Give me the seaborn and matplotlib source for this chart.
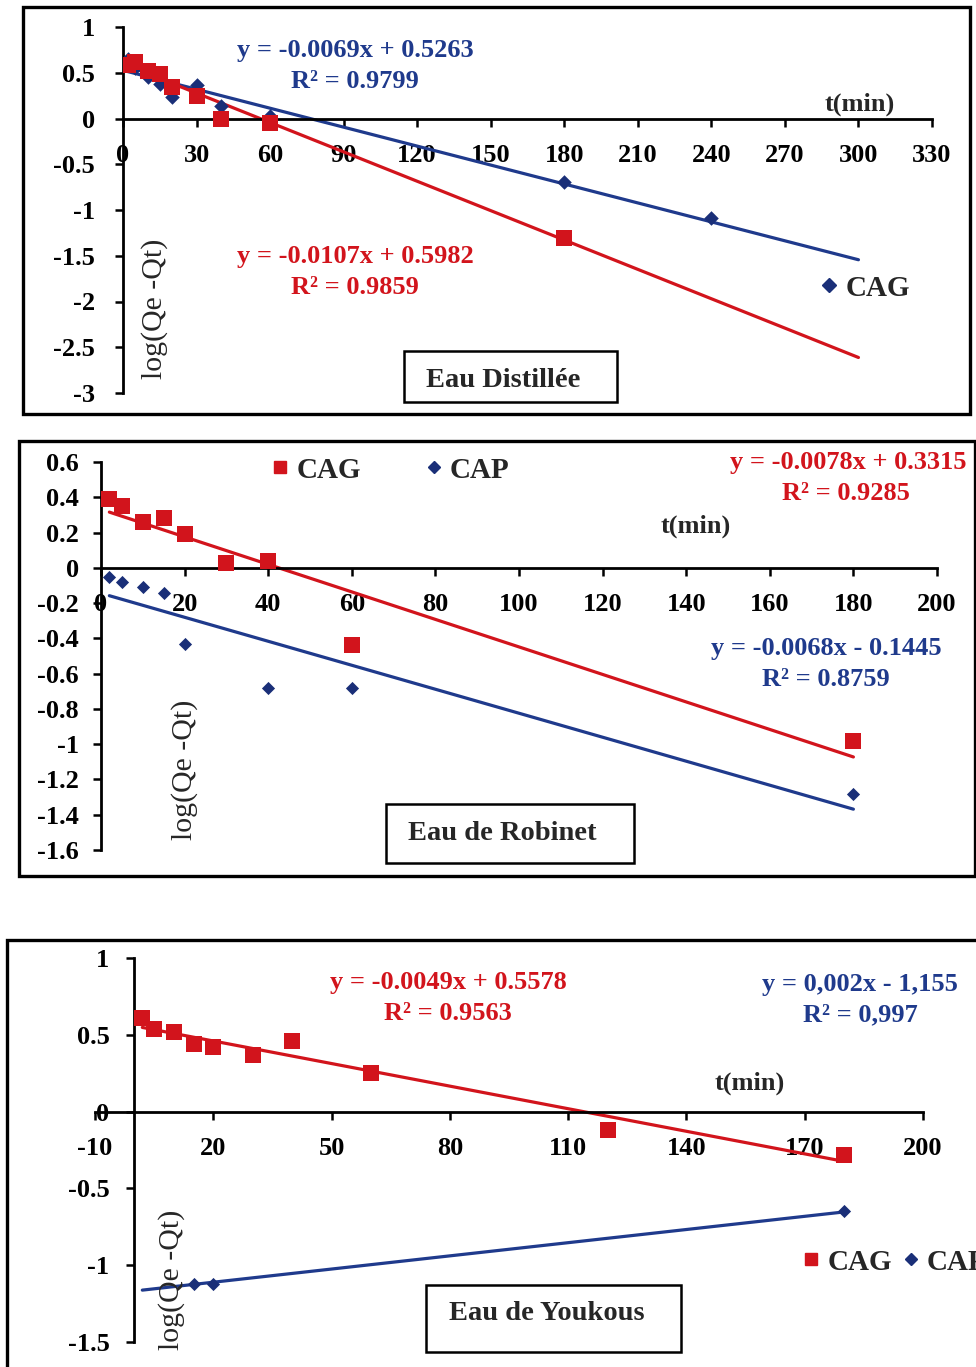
import numpy as np
import matplotlib
matplotlib.use("Agg")
import matplotlib.pyplot as plt
from matplotlib.patches import Rectangle
from matplotlib.lines import Line2D
import seaborn as sns

# ---------------- data ----------------
# Panel 1 : Eau Distillée
p1_cap_t = [2, 5, 10, 15, 20, 30, 40, 60, 180, 240]
p1_cap_y = [0.65, 0.55, 0.45, 0.38, 0.23, 0.37, 0.14, 0.03, -0.69, -1.09]
p1_cag_t = [2, 5, 10, 15, 20, 30, 40, 60, 180]
p1_cag_y = [0.59, 0.62, 0.52, 0.49, 0.34, 0.25, -0.01, -0.05, -1.31]
p1_fit_blue = (-0.0069, 0.5263)
p1_fit_red = (-0.0107, 0.5982)
p1_fit_range = (0, 300)
p1_xticks = [0, 30, 60, 90, 120, 150, 180, 210, 240, 270, 300, 330]
p1_yticks = [1, 0.5, 0, -0.5, -1, -1.5, -2, -2.5, -3]

# Panel 2 : Eau de Robinet
p2_cag_t = [2, 5, 10, 15, 20, 30, 40, 60, 180]
p2_cag_y = [0.39, 0.35, 0.26, 0.28, 0.19, 0.03, 0.04, -0.44, -0.98]
p2_cap_t = [2, 5, 10, 15, 20, 40, 60, 180]
p2_cap_y = [-0.05, -0.08, -0.11, -0.14, -0.43, -0.68, -0.68, -1.28]
p2_fit_red = (-0.0078, 0.3315)
p2_fit_blue = (-0.0068, -0.1445)
p2_fit_range = (2, 180)
p2_xticks = [0, 20, 40, 60, 80, 100, 120, 140, 160, 180, 200]
p2_yticks = [0.6, 0.4, 0.2, 0, -0.2, -0.4, -0.6, -0.8, -1, -1.2, -1.4, -1.6]

# Panel 3 : Eau de Youkous
p3_cag_t = [2, 5, 10, 15, 20, 30, 40, 60, 120, 180]
p3_cag_y = [0.61, 0.54, 0.52, 0.44, 0.42, 0.37, 0.46, 0.25, -0.12, -0.28]
p3_cap_t = [15, 20, 180]
p3_cap_y = [-1.12, -1.12, -0.65]
p3_fit_red = (-0.0049, 0.5578)
p3_fit_blue = (0.00286, -1.168)
p3_fit_range = (2, 180)
p3_xticks = [-10, 20, 50, 80, 110, 140, 170, 200]
p3_yticks = [1, 0.5, 0, -0.5, -1, -1.5]

RED = "#D2141C"
BLUE = "#1F3A8C"
BLUE_MK = "#1A2F78"

# ---------------- style ----------------
sns.set_theme(style="white")
plt.rcParams['font.family'] = ['Liberation Serif', 'DejaVu Serif']
plt.rcParams['font.weight'] = 'bold'
plt.rcParams['axes.unicode_minus'] = False

W, H = 976, 1367
fig = plt.figure(figsize=(W / 100, H / 100), dpi=100)
fig.patch.set_facecolor("white")


def fx(px):
    return px / W


def fy(py):
    return 1 - py / H


def add_ax(l, t, r, b):
    ax = fig.add_axes([fx(l), fy(b), (r - l) / W, (b - t) / H])
    ax.set_facecolor("none")
    return ax


def ftext(px, py, s, **kw):
    fig.text(fx(px), fy(py), s, **kw)


def frame(l, t, r, b, lw=2.4):
    fig.add_artist(Rectangle((fx(l), fy(b)), (r - l) / W, (b - t) / H,
                             transform=fig.transFigure, fill=False,
                             edgecolor="black", linewidth=lw, zorder=10))


def fmt(v):
    return f"{round(v, 3):g}"


def style_axes(ax, xlim, ylim, xticks, yticks, xpad, ypad):
    ax.set_xlim(*xlim)
    ax.set_ylim(*ylim)
    for s in ["top", "right"]:
        ax.spines[s].set_visible(False)
    ax.spines["left"].set_position(("data", 0))
    ax.spines["bottom"].set_position(("data", 0))
    for s in ["left", "bottom"]:
        ax.spines[s].set_color("black")
        ax.spines[s].set_linewidth(2.0)
    ax.set_xticks(xticks)
    ax.set_xticklabels([fmt(v) for v in xticks])
    ax.set_yticks(yticks)
    ax.set_yticklabels([fmt(v) for v in yticks])
    ax.tick_params(axis="x", direction="out", length=6, width=1.8,
                   color="black", pad=xpad, labelsize=19, bottom=True)
    ax.tick_params(axis="y", direction="out", length=6, width=1.8,
                   color="black", pad=ypad, labelsize=19, left=True)
    for lab in ax.get_xticklabels() + ax.get_yticklabels():
        lab.set_fontweight("bold")
        lab.set_color("black")
    ax.set_xlabel("")
    ax.set_ylabel("")
    ax.grid(False)


def fit_line(ax, fit, rng, color):
    xs = np.array(rng, dtype=float)
    sns.lineplot(x=xs, y=fit[0] * xs + fit[1], ax=ax, color=color,
                 linewidth=2.3, zorder=2, legend=False)


def pts(ax, t, y, color, marker, size):
    sns.scatterplot(x=t, y=y, ax=ax, color=color, marker=marker, s=size,
                    edgecolor=color, linewidth=0, zorder=3, legend=False)


EQ = dict(fontsize=19, fontweight="bold", ha="center", va="center")
LOGLAB = dict(fontsize=21.5, fontweight="normal", rotation=90, ha="center", va="center")
BOXT = dict(fontsize=20.5, fontweight="bold", ha="center", va="center")
LEGFS = 21

# ================= Panel 1 =================
frame(23, 7, 970, 414)
ax1 = add_ax(123, 27, 932, 393)
fit_line(ax1, p1_fit_blue, p1_fit_range, BLUE)
fit_line(ax1, p1_fit_red, p1_fit_range, RED)
pts(ax1, p1_cap_t, p1_cap_y, BLUE_MK, "D", 55)
pts(ax1, p1_cag_t, p1_cag_y, RED, "s", 130)
style_axes(ax1, (0, 330), (-3, 1), p1_xticks, p1_yticks, 12, 14)
ftext(355, 51, "y = -0.0069x + 0.5263", color=BLUE, **EQ)
ftext(355, 81, "R² = 0.9799", color=BLUE, **EQ)
ftext(355, 257, "y = -0.0107x + 0.5982", color=RED, **EQ)
ftext(355, 287, "R² = 0.9859", color=RED, **EQ)
ftext(860, 104, "t(min)", fontsize=19, fontweight="bold", ha="center", va="center")
ftext(155, 309, "log(Qe -Qt)", **LOGLAB)
frame(404, 351, 617, 402, lw=1.8)
ftext(503, 380, "Eau Distillée", **BOXT)
h1 = [Line2D([], [], marker="D", color=BLUE_MK, linestyle="none", markersize=7)]
fig.legend(handles=h1, labels=["CAG"], loc="center left",
           bbox_to_anchor=(fx(800), fy(288)), frameon=False, fontsize=LEGFS,
           handletextpad=0.05, handlelength=1.0, borderpad=0)

# ================= Panel 2 =================
frame(19, 441, 975, 876)
ax2 = add_ax(101, 462, 937, 850)
fit_line(ax2, p2_fit_red, p2_fit_range, RED)
fit_line(ax2, p2_fit_blue, p2_fit_range, BLUE)
pts(ax2, p2_cap_t, p2_cap_y, BLUE_MK, "D", 45)
pts(ax2, p2_cag_t, p2_cag_y, RED, "s", 130)
style_axes(ax2, (0, 200), (-1.6, 0.6), p2_xticks, p2_yticks, 12, 10)
ftext(966, 462, "y = -0.0078x + 0.3315", color=RED, fontsize=19, fontweight="bold",
      ha="right", va="center")
ftext(846, 493, "R² = 0.9285", color=RED, **EQ)
ftext(826, 649, "y = -0.0068x - 0.1445", color=BLUE, **EQ)
ftext(826, 679, "R² = 0.8759", color=BLUE, **EQ)
ftext(696, 526, "t(min)", fontsize=19, fontweight="bold", ha="center", va="center")
ftext(185, 770, "log(Qe -Qt)", **LOGLAB)
frame(386, 804, 634, 863, lw=1.8)
ftext(502, 834, "Eau de Robinet", **BOXT)
h2 = [Line2D([], [], marker="s", color=RED, linestyle="none", markersize=9),
      Line2D([], [], marker="D", color=BLUE_MK, linestyle="none", markersize=6)]
fig.legend(handles=h2, labels=["CAG", "CAP"], loc="center left", ncol=2,
           bbox_to_anchor=(fx(251), fy(470)), frameon=False, fontsize=LEGFS,
           handletextpad=0.05, handlelength=1.0, columnspacing=2.0, borderpad=0)

# ================= Panel 3 =================
frame(7, 940, 1000, 1400)
ax3 = add_ax(95, 958, 923, 1342)
fit_line(ax3, p3_fit_red, p3_fit_range, RED)
fit_line(ax3, p3_fit_blue, p3_fit_range, BLUE)
pts(ax3, p3_cap_t, p3_cap_y, BLUE_MK, "D", 45)
pts(ax3, p3_cag_t, p3_cag_y, RED, "s", 130)
style_axes(ax3, (-10, 200), (-1.5, 1), p3_xticks, p3_yticks, 12, 12)
ftext(448, 983, "y = -0.0049x + 0.5578", color=RED, **EQ)
ftext(448, 1013, "R² = 0.9563", color=RED, **EQ)
ftext(860, 985, "y = 0,002x - 1,155", color=BLUE, **EQ)
ftext(860, 1015, "R² = 0,997", color=BLUE, **EQ)
ftext(750, 1083, "t(min)", fontsize=19, fontweight="bold", ha="center", va="center")
ftext(172, 1280, "log(Qe -Qt)", zorder=5, **LOGLAB)
frame(426, 1285, 681, 1352, lw=1.8)
ftext(547, 1313, "Eau de Youkous", **BOXT)
fig.legend(handles=h2, labels=["CAG", "CAP"], loc="center left", ncol=2,
           bbox_to_anchor=(fx(782), fy(1262)), frameon=False, fontsize=LEGFS,
           handletextpad=0.05, handlelength=1.0, columnspacing=0.15, borderpad=0)

fig.savefig("out.png", dpi=100, facecolor="white")
